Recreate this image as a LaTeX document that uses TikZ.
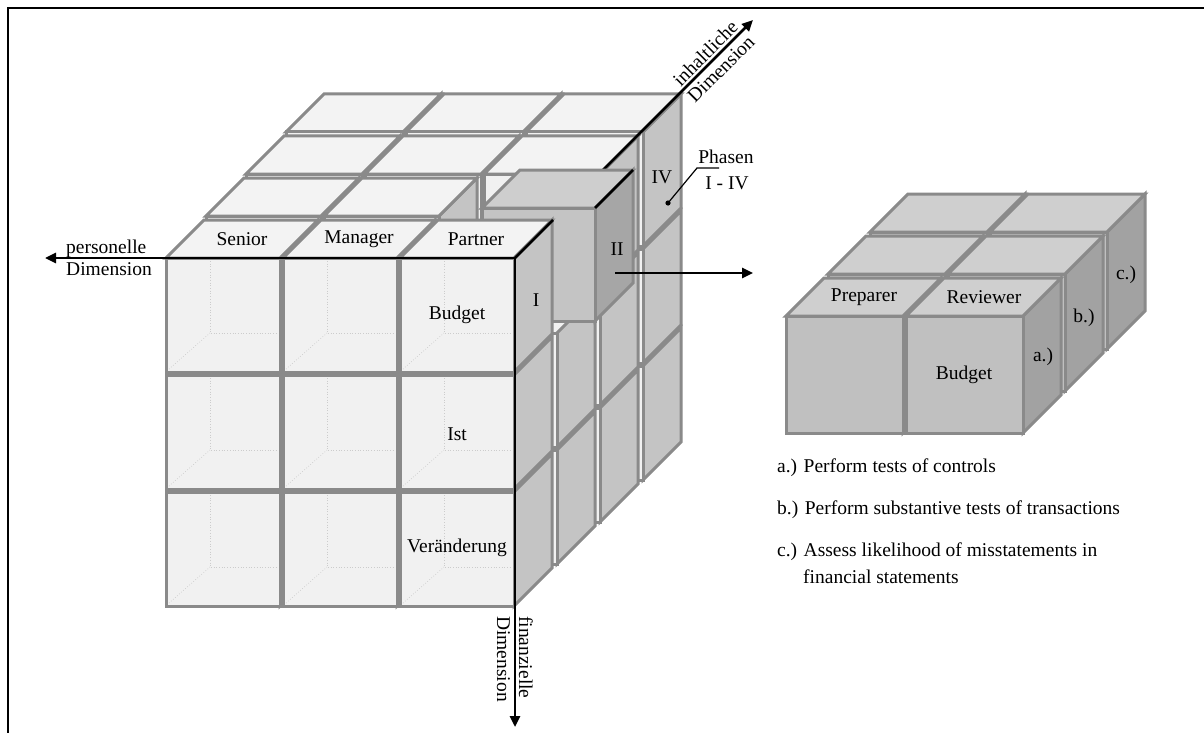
\documentclass[tikz,border=0pt]{standalone}
\usepackage{fontspec}
\setmainfont{Liberation Serif}
\usetikzlibrary{arrows.meta}

\definecolor{edgegray}{RGB}{138,138,138}
\definecolor{bigfront}{RGB}{241,241,241}
\definecolor{bigtop}{RGB}{243,243,243}
\definecolor{bigright}{RGB}{196,196,196}
\definecolor{IIfront}{RGB}{196,196,196}
\definecolor{IItop}{RGB}{206,206,206}
\definecolor{IIright}{RGB}{166,166,166}
\definecolor{smallfront}{RGB}{192,192,192}
\definecolor{smalltop}{RGB}{207,207,207}
\definecolor{smallright}{RGB}{162,162,162}

\tikzset{
  face/.style={draw=edgegray, line width=3pt},
  hid/.style={draw=gray!40, line width=0.7pt, dotted},
  axis/.style={draw=black, line width=2.6pt},
  axisarrow/.style={axis, -{Triangle[length=11pt,width=10pt]}},
  lbl/.style={font=\fontsize{19.5}{22}\selectfont, inner sep=0pt, text=black},
}

% block with front, top and right face:
% x, y (front top-left), width, height, depth, front fill, top fill, right fill
\newcommand\cubeT[8]{%
  \draw[face,fill=#8] ({#1+#3},{#2}) -- ++(#5,-#5) -- ++(0,#4) -- ++(-#5,#5) -- cycle;
  \draw[face,fill=#7] ({#1},{#2}) -- ++(#5,-#5) -- ++(#3,0) -- ++(-#5,#5) -- cycle;
  \draw[face,fill=#6] ({#1},{#2}) rectangle ++(#3,#4);
}
% block with front and right face only
\newcommand\cubeS[7]{%
  \draw[face,fill=#7] ({#1+#3},{#2}) -- ++(#5,-#5) -- ++(0,#4) -- ++(-#5,#5) -- cycle;
  \draw[face,fill=#6] ({#1},{#2}) rectangle ++(#3,#4);
}
% one block of the 3 x 3 x 4 cube: column, row, layer
\newcommand\bigblock[3]{%
  \pgfmathsetmacro\bx{166+40*#3+(117+#3)*#1}%
  \pgfmathsetmacro\by{258+117*#2-42*#3}%
  \pgfmathsetmacro\bw{114+#3}%
  \ifnum#2=0
    \cubeT{\bx}{\by}{\bw}{114}{38}{bigfront}{bigtop}{bigright}%
  \else
    \cubeS{\bx}{\by}{\bw}{114}{38}{bigfront}{bigright}%
  \fi
}

\begin{document}
\begin{tikzpicture}[x=1pt,y=-1pt]
\useasboundingbox (0,0) rectangle (1204,733);
\fill[white] (0,0) rectangle (1204,733);

% frame
\draw[line width=2pt] (1214,8) -- (8,8) -- (8,743);

% axis origin and ends
\coordinate (origin) at (515,258);
\coordinate (pEnd) at (45,258);
\coordinate (fEnd) at (515,727);
\coordinate (iEnd) at (753,20);

% layers IV and III
\foreach \kk in {3,2}{
  \foreach \cc in {0,1,2}{
    \foreach \rr in {2,1,0}{
      \bigblock{\cc}{\rr}{\kk}
    }}}

% content axis runs behind the front layers
\draw[axisarrow] (origin) -- (iEnd);

% layer II (block of the partner budget row pulled out)
\foreach \cc in {0,1}{
  \foreach \rr in {2,1,0}{
    \bigblock{\cc}{\rr}{1}
  }}
\foreach \rr in {2,1}{
  \bigblock{2}{\rr}{1}
}
\cubeT{482}{208}{113}{113}{38}{IIfront}{IItop}{IIright}
\draw[axis] (595,208) -- (633,170);

% layer I
\foreach \cc in {0,1,2}{
  \foreach \rr in {2,1,0}{
    \bigblock{\cc}{\rr}{0}
  }}

% hidden back edges seen through the front blocks
\foreach \cc in {0,1,2}{
  \foreach \rr in {0,1,2}{
    \pgfmathsetmacro\hx{166+117*\cc}
    \pgfmathsetmacro\hy{258+117*\rr}
    \draw[hid] ({\hx+44},{\hy+3}) -- ({\hx+44},{\hy+75}) -- ({\hx+111},{\hy+75});
    \draw[hid] ({\hx+3},{\hy+111}) -- ({\hx+44},{\hy+75});
  }}

% axes in front
\draw[axis] (origin) -- ++(38,-38);
\draw[axisarrow] (origin) -- (pEnd);
\draw[axisarrow] (origin) -- (fEnd);

% axis captions
\node[lbl, align=left, anchor=west] (pers) at (66,258) {personelle\\Dimension};
\node[lbl, align=left, anchor=west, rotate=-90] (fin) at (515,616) {finanzielle\\Dimension};
\node[lbl, align=center, rotate=45] (inh) at (713,61) {inhaltliche\\Dimension};

% block captions
\node[lbl] (senior) at (242,239) {Senior};
\node[lbl] (manager) at (359,239) {Manager};
\node[lbl] (partner) at (476,239) {Partner};
\node[lbl] (budget) at (457,315) {Budget};
\node[lbl] (ist) at (457,434) {Ist};
\node[lbl] (veraend) at (457,548) {Veränderung};
\node[lbl] (ph1) at (536,300) {I};
\node[lbl] (ph2) at (617,249) {II};
\node[lbl] (ph4) at (662,177) {IV};

% phase caption with leader
\node[lbl] (phasen) at (726,157) {Phasen};
\node[lbl] (phrange) at (727,183) {I - IV};
\coordinate (phdot) at (668,203);
\fill (phdot) circle (2.6pt);
\draw[line width=1.2pt] (phdot) -- (697,168) -- (719,168);

% detail cube: reviewer / preparer, steps a.) to c.)
\foreach \kk in {2,1,0}{
  \foreach \cc in {0,1}{
    \pgfmathsetmacro\sx{786+120*\cc+42*\kk}
    \pgfmathsetmacro\sy{316-42*\kk}
    \cubeT{\sx}{\sy}{117}{117}{38}{smallfront}{smalltop}{smallright}
  }}
\node[lbl] (prep) at (864,297) {Preparer};
\node[lbl] (rev) at (984,297) {Reviewer};
\node[lbl] (sbudget) at (964,375) {Budget};
\node[lbl] (sa) at (1043,357) {a.)};
\node[lbl] (sb) at (1084,318) {b.)};
\node[lbl] (sc) at (1126,275) {c.)};

% link from the pulled-out block to the detail cube
\coordinate (linkS) at (615,273);
\coordinate (linkE) at (753,273);
\draw[axisarrow] (linkS) -- (linkE);

% legend
\node[lbl, anchor=west] (la) at (777,468) {a.) Perform tests of controls};
\node[lbl, anchor=west] (lb) at (777,510) {b.) Perform substantive tests of transactions};
\node[lbl, anchor=west] (lc) at (777,552) {c.) Assess likelihood of misstatements in};
\node[lbl, anchor=west] (lc2) at (803,577) {financial statements};
\end{tikzpicture}
\end{document}
